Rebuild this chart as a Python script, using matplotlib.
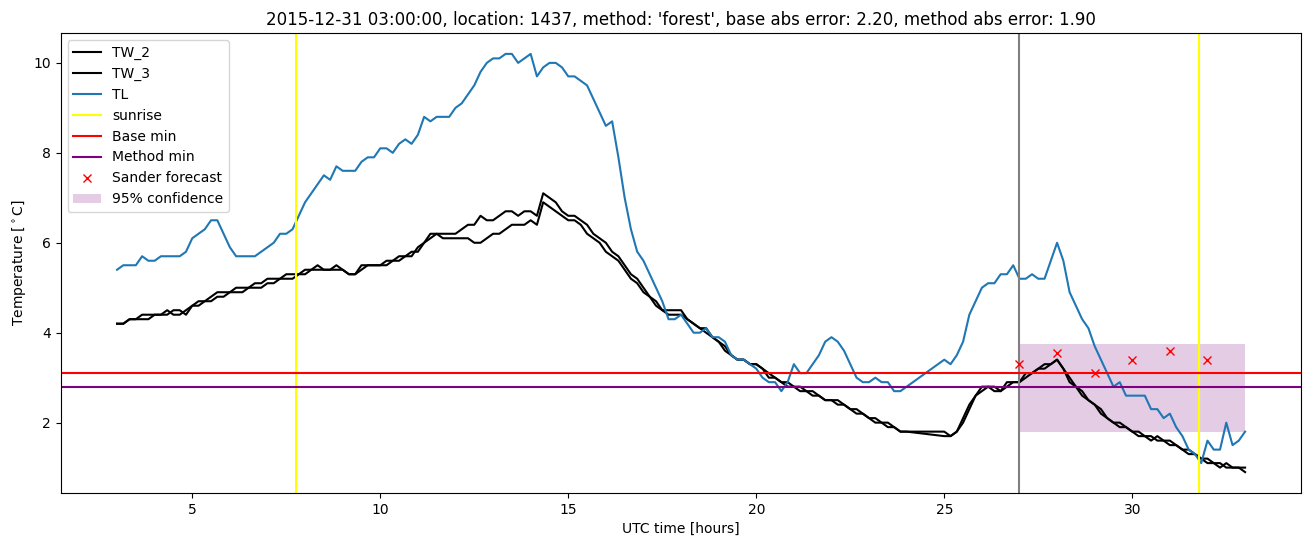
import numpy as np
import matplotlib
matplotlib.use('Agg')
import matplotlib.pyplot as plt

nan = np.nan

# 10-minute samples from 03:00 to 33:00 (hours after the reference day start)
hours = 3 + np.arange(181) / 6

tl = [
    5.4, 5.5, 5.5, 5.5, 5.7, 5.6,
    5.6, 5.7, 5.7, 5.7, 5.7, 5.8,
    6.1, 6.2, 6.3, 6.5, 6.5, 6.2,
    5.9, 5.7, 5.7, 5.7, 5.7, 5.8,
    5.9, 6.0, 6.2, 6.2, 6.3, 6.6,
    6.9, 7.1, 7.3, 7.5, 7.4, 7.7,
    7.6, 7.6, 7.6, 7.8, 7.9, 7.9,
    8.1, 8.1, 8.0, 8.2, 8.3, 8.2,
    8.4, 8.8, 8.7, 8.8, 8.8, 8.8,
    9.0, 9.1, 9.3, 9.5, 9.8, 10.0,
    10.1, 10.1, 10.2, 10.2, 10.0, 10.1,
    10.2, 9.7, 9.9, 10.0, 10.0, 9.9,
    9.7, 9.7, 9.6, 9.5, 9.2, 8.9,
    8.6, 8.7, 7.9, 7.0, 6.3, 5.8,
    5.6, 5.3, 5.0, 4.7, 4.3, 4.3,
    4.4, 4.2, 4.0, 4.0, 4.1, 3.9,
    3.9, 3.8, 3.5, 3.4, 3.4, 3.3,
    3.2, 3.0, 2.9, 2.9, 2.7, 2.9,
    3.3, 3.1, 3.1, 3.3, 3.5, 3.8,
    3.9, 3.8, 3.6, 3.3, 3.0, 2.9,
    2.9, 3.0, 2.9, 2.9, 2.7, 2.7,
    2.8, nan, nan, nan, nan, nan,
    3.4, 3.3, 3.5, 3.8, 4.4, 4.7,
    5.0, 5.1, 5.1, 5.3, 5.3, 5.5,
    5.2, 5.2, 5.3, 5.2, 5.2, 5.6,
    6.0, 5.6, 4.9, 4.6, 4.3, 4.1,
    3.7, 3.4, 3.1, 2.8, 2.9, 2.6,
    2.6, 2.6, 2.6, 2.3, 2.3, 2.1,
    2.2, 1.9, 1.7, 1.4, 1.3, 1.1,
    1.6, 1.4, 1.4, 2.0, 1.5, 1.6,
    1.8,
]

tw_2 = [
    4.2, 4.2, 4.3, 4.3, 4.4, 4.4,
    4.4, 4.4, 4.5, 4.4, 4.4, 4.5,
    4.6, 4.7, 4.7, 4.8, 4.9, 4.9,
    4.9, 5.0, 5.0, 5.0, 5.1, 5.1,
    5.2, 5.2, 5.2, 5.3, 5.3, 5.3,
    5.4, 5.4, 5.5, 5.4, 5.4, 5.5,
    5.4, 5.3, 5.3, 5.5, 5.5, 5.5,
    5.5, 5.6, 5.6, 5.7, 5.7, 5.8,
    5.8, 6.0, 6.2, 6.2, 6.2, 6.2,
    6.2, 6.3, 6.4, 6.4, 6.6, 6.5,
    6.5, 6.6, 6.7, 6.7, 6.6, 6.7,
    6.7, 6.6, 7.1, 7.0, 6.9, 6.7,
    6.6, 6.6, 6.5, 6.4, 6.2, 6.1,
    6.0, 5.8, 5.7, 5.5, 5.3, 5.2,
    5.0, 4.8, 4.7, 4.5, 4.5, 4.5,
    4.5, 4.3, 4.2, 4.1, 4.1, 3.9,
    3.8, 3.6, 3.5, 3.4, 3.4, 3.3,
    3.3, 3.2, 3.0, 3.0, 2.9, 2.9,
    2.8, 2.7, 2.7, 2.6, 2.6, 2.5,
    2.5, 2.4, 2.4, 2.3, 2.2, 2.2,
    2.1, 2.0, 2.0, 1.9, 1.9, 1.8,
    1.8, nan, nan, nan, nan, nan,
    1.7, 1.7, 1.8, 2.1, 2.4, 2.6,
    2.8, 2.8, 2.7, 2.7, 2.9, 2.9,
    2.9, 3.0, 3.1, 3.2, 3.2, 3.3,
    3.4, 3.2, 2.9, 2.8, 2.6, 2.5,
    2.4, 2.2, 2.1, 2.0, 1.9, 1.9,
    1.8, 1.8, 1.7, 1.7, 1.6, 1.6,
    1.5, 1.5, 1.4, 1.4, 1.3, 1.2,
    1.2, 1.1, 1.1, 1.0, 1.0, 1.0,
    0.9,
]

tw_3 = [
    4.2, 4.2, 4.3, 4.3, 4.3, 4.3,
    4.4, 4.4, 4.4, 4.5, 4.5, 4.4,
    4.6, 4.6, 4.7, 4.7, 4.8, 4.8,
    4.9, 4.9, 4.9, 5.0, 5.0, 5.0,
    5.1, 5.1, 5.2, 5.2, 5.2, 5.3,
    5.3, 5.4, 5.4, 5.4, 5.4, 5.4,
    5.4, 5.3, 5.3, 5.4, 5.5, 5.5,
    5.5, 5.5, 5.6, 5.6, 5.7, 5.7,
    5.9, 6.0, 6.1, 6.2, 6.1, 6.1,
    6.1, 6.1, 6.1, 6.0, 6.0, 6.1,
    6.2, 6.2, 6.3, 6.4, 6.4, 6.4,
    6.5, 6.4, 6.9, 6.8, 6.7, 6.6,
    6.5, 6.5, 6.4, 6.2, 6.1, 6.0,
    5.8, 5.7, 5.6, 5.4, 5.2, 5.1,
    4.9, 4.8, 4.6, 4.5, 4.4, 4.4,
    4.4, 4.3, 4.2, 4.1, 4.0, 3.9,
    3.8, 3.7, 3.5, 3.4, 3.4, 3.3,
    3.3, 3.2, 3.1, 3.0, 2.9, 2.8,
    2.8, 2.8, 2.7, 2.7, 2.6, 2.5,
    2.5, 2.5, 2.4, 2.3, 2.3, 2.2,
    2.1, 2.1, 2.0, 2.0, 1.9, 1.8,
    1.8, nan, nan, nan, nan, nan,
    1.8, 1.7, 1.8, 2.0, 2.3, 2.6,
    2.7, 2.8, 2.8, 2.7, 2.8, 2.9,
    2.9, 3.1, 3.1, 3.2, 3.3, 3.3,
    3.4, 3.2, 3.0, 2.8, 2.7, 2.5,
    2.4, 2.3, 2.1, 2.0, 2.0, 1.9,
    1.8, 1.7, 1.7, 1.6, 1.7, 1.6,
    1.6, 1.5, 1.4, 1.3, 1.3, 1.2,
    1.1, 1.1, 1.0, 1.1, 1.0, 1.0,
    1.0,
]

sunrise_hours = [7.77, 31.78]
forecast_time = 27.0
base_min = 3.1
method_min = 2.8

sander_hours = [27, 28, 29, 30, 31, 32]
sander_temp = [3.3, 3.55, 3.1, 3.4, 3.6, 3.4]

conf_hours = [27.0, 33.0]
conf_low = 1.8
conf_high = 3.75


def valid(series):
    arr = np.array(series, dtype=float)
    m = ~np.isnan(arr)
    return hours[m], arr[m]


def main() -> None:
    fig, ax = plt.subplots(figsize=(13.1, 5.47), dpi=100)
    fig.subplots_adjust(left=0.0463, right=0.9935, top=0.9397, bottom=0.0987)

    ax.plot(*valid(tw_2), color='black', label='TW_2')
    ax.plot(*valid(tw_3), color='black', label='TW_3')
    ax.plot(*valid(tl), color='C0', label='TL')

    for i, sr in enumerate(sunrise_hours):
        ax.axvline(sr, color='yellow', label='sunrise' if i == 0 else None)
    ax.axvline(forecast_time, color='grey')

    ax.axhline(base_min, color='red', label='Base min')
    ax.axhline(method_min, color='purple', label='Method min')
    ax.plot(sander_hours, sander_temp, 'rx', label='Sander forecast')
    ax.fill_between(conf_hours, conf_low, conf_high, color='purple',
                    alpha=0.2, linewidth=0, label='95% confidence')

    ax.set_title("2015-12-31 03:00:00, location: 1437, method: 'forest', "
                 "base abs error: 2.20, method abs error: 1.90")
    ax.set_xlabel('UTC time [hours]')
    ax.set_ylabel(r'Temperature [$^\circ$C]')
    ax.legend(loc='upper left')

    fig.savefig('out.png')


if __name__ == '__main__':
    main()
